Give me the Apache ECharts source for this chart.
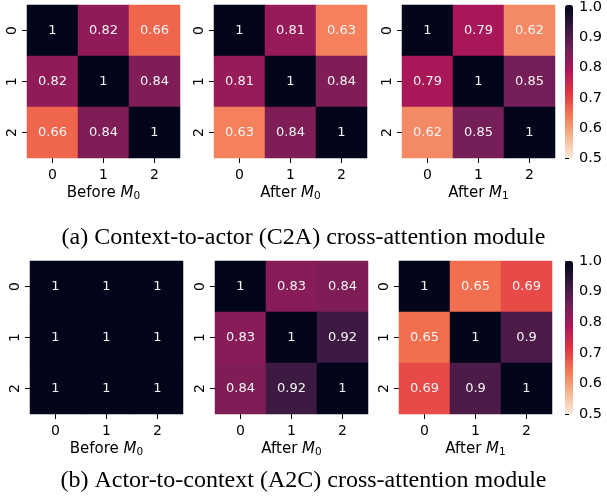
<!DOCTYPE html>
<html>
<head>
<meta charset="utf-8">
<script src="https://cdn.jsdelivr.net/npm/echarts@6/dist/echarts.min.js"></script>
<style>
  html, body { margin: 0; padding: 0; background: #ffffff; }
  #chart { width: 607px; height: 496px; }
</style>
</head>
<body>
<div id="chart"></div>
<script>
// Tick categories shared by every heat map
const categories = ['0', '1', '2'];

// Context-to-actor (C2A) similarity matrices
const c2aBefore  = [[1, 0.82, 0.66], [0.82, 1, 0.84], [0.66, 0.84, 1]];
const c2aAfterM0 = [[1, 0.81, 0.63], [0.81, 1, 0.84], [0.63, 0.84, 1]];
const c2aAfterM1 = [[1, 0.79, 0.62], [0.79, 1, 0.85], [0.62, 0.85, 1]];

// Actor-to-context (A2C) similarity matrices
const a2cBefore  = [[1, 1, 1], [1, 1, 1], [1, 1, 1]];
const a2cAfterM0 = [[1, 0.83, 0.84], [0.83, 1, 0.92], [0.84, 0.92, 1]];
const a2cAfterM1 = [[1, 0.65, 0.69], [0.65, 1, 0.9], [0.69, 0.9, 1]];

// Colour scale range and colour-bar ticks
const scaleMin = 0.5;
const scaleMax = 1.0;
const colorbarStep = 0.1;

// Panel titles (prefix, subscript of M)
const panelPrefixes = ['Before ', 'After ', 'After '];
const panelSubs = ['0', '0', '1'];

// Captions under each row
const captions = [
  '(a) Context-to-actor (C2A) cross-attention module',
  '(b) Actor-to-context (A2C) cross-attention module'
];

// Reversed "rocket" colour map, low to high
const rocketR = ['#faebdd', '#f6b48f', '#f37651', '#e13342', '#ad1759', '#701f57', '#35193e', '#03051a'];

const FONT = 'DejaVu Sans';
const matrices = [c2aBefore, c2aAfterM0, c2aAfterM1, a2cBefore, a2cAfterM0, a2cAfterM1];

// Plot boxes for the six heat maps and the two colour bars
const boxes = [
  { left: 27,  top: 5,   width: 153, height: 153 },
  { left: 214, top: 5,   width: 153, height: 153 },
  { left: 402, top: 5,   width: 153, height: 153 },
  { left: 30,  top: 261, width: 153, height: 153 },
  { left: 215, top: 261, width: 153, height: 153 },
  { left: 399, top: 261, width: 153, height: 153 }
];
const barBoxes = [
  { left: 565, top: 5,   width: 8, height: 153 },
  { left: 565, top: 261, width: 8, height: 153 }
];

const grid = [], xAxis = [], yAxis = [], series = [];

matrices.forEach((m, i) => {
  grid.push(Object.assign({ containLabel: false }, boxes[i]));
  const k = i % 3;
  xAxis.push({
    type: 'category',
    gridIndex: i,
    data: categories,
    axisLine: { show: false },
    axisTick: { show: true, alignWithLabel: true, length: 5, lineStyle: { color: '#000', width: 1 } },
    axisLabel: { margin: 10, fontSize: 14, color: '#000', fontFamily: FONT },
    splitLine: { show: false },
    name: panelPrefixes[k] + '{it|M}{sub|' + panelSubs[k] + '}',
    nameLocation: 'middle',
    nameGap: 27,
    nameTextStyle: {
      fontFamily: FONT, fontSize: 15, color: '#000', lineHeight: 17,
      rich: {
        it: { fontFamily: FONT, fontStyle: 'italic', fontSize: 15, color: '#000', lineHeight: 17 },
        sub: { fontFamily: FONT, fontSize: 10.5, color: '#000', lineHeight: 10, verticalAlign: 'bottom' }
      }
    }
  });
  yAxis.push({
    type: 'category',
    gridIndex: i,
    data: categories,
    inverse: true,
    axisLine: { show: false },
    axisTick: { show: true, alignWithLabel: true, length: 5, lineStyle: { color: '#000', width: 1 } },
    axisLabel: { margin: 8, fontSize: 14, color: '#000', fontFamily: FONT, rotate: 90 },
    splitLine: { show: false }
  });
  const data = [];
  m.forEach((row, r) => row.forEach((v, c) => data.push([c, r, v])));
  series.push({
    type: 'heatmap',
    xAxisIndex: i,
    yAxisIndex: i,
    data: data,
    progressive: 0,
    itemStyle: { borderWidth: 0 },
    label: {
      show: true,
      formatter: p => String(p.value[2]),
      color: '#f4f4f4',
      fontSize: 13,
      fontFamily: FONT
    },
    emphasis: { disabled: true }
  });
});

// Tick axes placed along the colour bars
barBoxes.forEach((b, j) => {
  const gi = matrices.length + j;
  grid.push(Object.assign({ containLabel: false }, b));
  xAxis.push({ type: 'value', gridIndex: gi, show: false, min: 0, max: 1 });
  yAxis.push({
    type: 'value',
    gridIndex: gi,
    position: 'right',
    min: scaleMin,
    max: scaleMax,
    interval: colorbarStep,
    axisLine: { show: false },
    axisTick: { show: true, length: 4, lineStyle: { color: '#000', width: 1 } },
    axisLabel: { margin: 6, fontSize: 14.5, color: '#000', fontFamily: FONT, formatter: v => v.toFixed(1) },
    splitLine: { show: false }
  });
});

const visualMap = barBoxes.map((b, j) => ({
  type: 'continuous',
  min: scaleMin,
  max: scaleMax,
  seriesIndex: [3 * j, 3 * j + 1, 3 * j + 2],
  inRange: { color: rocketR },
  orient: 'vertical',
  left: b.left,
  top: b.top,
  itemWidth: b.width,
  itemHeight: b.height,
  calculable: false,
  hoverLink: false,
  padding: 0
}));

const title = captions.map((t, j) => ({
  text: t,
  left: 'center',
  top: j === 0 ? 226 : 469,
  padding: 0,
  textStyle: { fontFamily: 'Liberation Serif', fontSize: 24, fontWeight: 'normal', color: '#000' }
}));

const chart = echarts.init(document.getElementById('chart'), null, { renderer: 'canvas' });
chart.setOption({
  animation: false,
  backgroundColor: '#ffffff',
  title: title,
  grid: grid,
  xAxis: xAxis,
  yAxis: yAxis,
  visualMap: visualMap,
  series: series
});
</script>
</body>
</html>
